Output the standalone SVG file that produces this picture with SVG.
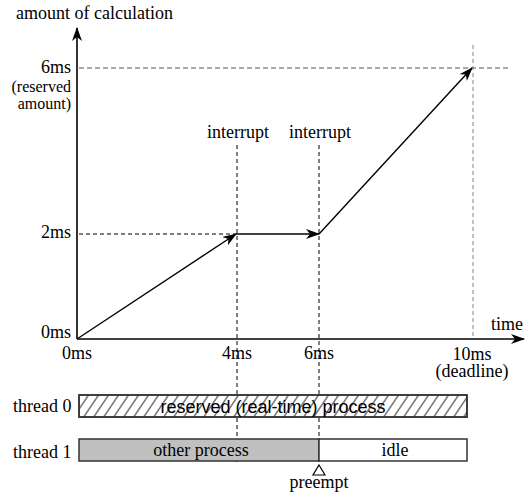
<svg xmlns="http://www.w3.org/2000/svg" width="531" height="501" viewBox="0 0 531 501">
<style>
.t{font-family:'Liberation Serif','Times New Roman',serif;font-size:18px;fill:#000}
.m{text-anchor:middle}
.e{text-anchor:end}
.sm{font-size:16px}
.s{font-family:'Liberation Sans',Arial,sans-serif;font-size:18px;fill:#000}
.ax{stroke:#000;stroke-width:1.6;fill:none}
.ln{stroke:#000;stroke-width:1.4;fill:none}
.d{stroke:#000;stroke-width:1;stroke-dasharray:4,3;fill:none}
.dg{stroke:#555;stroke-width:1;stroke-dasharray:5,3;fill:none}
.dl{stroke:#999;stroke-width:1.2;stroke-dasharray:4,3;fill:none}
.bar{stroke:#333;stroke-width:1.5}
</style>
<defs>
<marker id="ah" viewBox="0 0 14 10" markerWidth="14" markerHeight="10" refX="13" refY="5" orient="auto" markerUnits="userSpaceOnUse">
<path d="M0,0 L14,5 L0,10 L4,5 z" fill="#000"/>
</marker>
<pattern id="hatch" patternUnits="userSpaceOnUse" width="10" height="10" patternTransform="skewX(-34)">
<line x1="5" y1="0" x2="5" y2="10" stroke="#000" stroke-width="1"/>
</pattern>
</defs>

<g id="guides">
<line class="dg" x1="79" y1="68" x2="511" y2="68"/>
<line class="dl" x1="473" y1="45" x2="473" y2="338"/>
<line class="d" x1="79" y1="234" x2="236" y2="234"/>
<line class="d" x1="237" y1="145" x2="237" y2="462"/>
<line class="d" x1="319" y1="145" x2="319" y2="462"/>
</g>

<g id="axes">
<line class="ax" x1="77" y1="339" x2="77" y2="28" marker-end="url(#ah)"/>
<line class="ax" x1="77" y1="339" x2="524" y2="339" marker-end="url(#ah)"/>
</g>

<g id="connectors">
<line class="ln" x1="77" y1="339" x2="236" y2="234" marker-end="url(#ah)"/>
<line class="ln" x1="236" y1="234" x2="319" y2="234" marker-end="url(#ah)"/>
<line class="ln" x1="319" y1="234" x2="472" y2="68" marker-end="url(#ah)"/>
</g>

<g id="labels">
<text class="t" x="16" y="19">amount of calculation</text>
<text class="t e" x="71" y="73">6ms</text>
<text class="t e sm" x="71" y="92">(reserved</text>
<text class="t e sm" x="71" y="109">amount)</text>
<text class="t e" x="71" y="238">2ms</text>
<text class="t e" x="71" y="338">0ms</text>
<text class="t m" x="77" y="359">0ms</text>
<text class="t m" x="237" y="359">4ms</text>
<text class="t m" x="319" y="359">6ms</text>
<text class="t m" x="472" y="360">10ms</text>
<text class="t m" x="472" y="377">(deadline)</text>
<text class="t" x="491" y="330">time</text>
<text class="t m" x="238" y="138">interrupt</text>
<text class="t m" x="320" y="138">interrupt</text>
</g>

<g id="thread0">
<text class="t" x="13" y="412">thread 0</text>
<rect class="bar" x="79" y="395" width="388" height="22" fill="#fff"/>
<rect x="79" y="395" width="388" height="22" fill="url(#hatch)" stroke="#333" stroke-width="1.5"/>
<text class="s m" x="273" y="413">reserved (real-time) process</text>
</g>

<g id="thread1">
<text class="t" x="13" y="458">thread 1</text>
<rect class="bar" x="79" y="439" width="240" height="22" fill="#c0c0c0"/>
<rect class="bar" x="319" y="439" width="148" height="22" fill="#fff"/>
<text class="t m" x="201" y="456">other process</text>
<text class="t m" x="395" y="456">idle</text>
</g>

<g id="preempt">
<path d="M319,465 L325,475 L313,475 Z" fill="#fff" stroke="#000" stroke-width="1.2"/>
<text class="t m" x="319" y="488">preempt</text>
</g>
</svg>
